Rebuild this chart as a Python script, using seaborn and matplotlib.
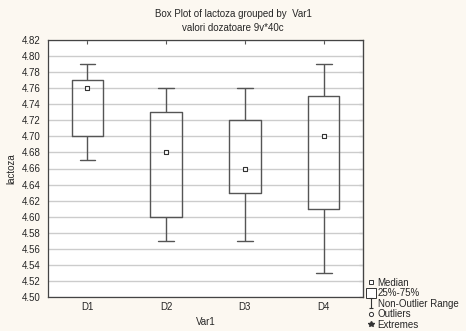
import matplotlib
matplotlib.use("Agg")
import matplotlib.pyplot as plt
import pandas as pd
import seaborn as sns
from matplotlib.lines import Line2D
from matplotlib.path import Path

GROUPS = ["D1", "D2", "D3", "D4"]
MEDIAN = [4.76, 4.68, 4.66, 4.70]
Q1 = [4.70, 4.60, 4.63, 4.61]
Q3 = [4.77, 4.73, 4.72, 4.75]
WHIS_LO = [4.67, 4.57, 4.57, 4.53]
WHIS_HI = [4.79, 4.76, 4.76, 4.79]
Y_TICKS = [4.50 + 0.02 * i for i in range(17)]

# five summary points per group -> boxplot reproduces the same stats
rows = []
for g, lo, q1, med, q3, hi in zip(GROUPS, WHIS_LO, Q1, MEDIAN, Q3, WHIS_HI):
    for v in (lo, q1, med, q3, hi):
        rows.append({"Var1": g, "lactoza": v})
df = pd.DataFrame(rows)
med_df = pd.DataFrame({"Var1": GROUPS, "lactoza": MEDIAN})

sns.set_style("white")
plt.rcParams["font.family"] = ["Liberation Sans", "DejaVu Sans"]
plt.rcParams["font.size"] = 7

bg = "#fcf8f1"
edge = "#555555"

fig = plt.figure(figsize=(4.66, 3.31), dpi=100, facecolor=bg)
ax = fig.add_axes([48 / 466, 34 / 331, 315 / 466, 257 / 331])
ax.set_facecolor("white")

sns.boxplot(
    data=df, x="Var1", y="lactoza", order=GROUPS, whis=(0, 100),
    width=0.4, fill=False, color=edge, linewidth=1.0,
    medianprops={"visible": False}, ax=ax, zorder=3,
)
for p in ax.patches:
    p.set_facecolor("white")
    p.set_fill(True)
sns.scatterplot(
    data=med_df, x="Var1", y="lactoza", marker="s", s=12,
    facecolor="white", edgecolor="#333333", linewidth=0.8, ax=ax, zorder=5,
)

ax.set_ylim(4.50, 4.82)
ax.set_xlim(-0.5, 3.5)
ax.set_yticks(Y_TICKS)
ax.set_yticklabels([f"{t:.2f}" for t in Y_TICKS])
ax.yaxis.grid(True, color="#cccccc", linewidth=1.0)
ax.set_axisbelow(True)
ax.tick_params(axis="y", which="major", direction="out", length=3, color=edge,
               labelsize=7, pad=2)
ax.tick_params(axis="x", direction="in", length=3, color=edge, labelsize=7, top=True)
for s in ax.spines.values():
    s.set_color("#444444")
    s.set_linewidth(0.9)

# inward ticks on the right side
ax_r = ax.secondary_yaxis("right")
ax_r.set_yticks(Y_TICKS)
ax_r.tick_params(direction="in", length=3, color=edge, labelright=False)
ax_r.spines["right"].set_color("#444444")

ax.set_xlabel("Var1", fontsize=7, labelpad=4)
ax.set_ylabel("lactoza", fontsize=7, labelpad=4)
fig.text(0.5, 0.958, "Box Plot of lactoza grouped by  Var1", ha="center", va="center",
         fontsize=7)
fig.text(0.5, 0.915, "valori dozatoare 9v*40c", ha="center", va="center", fontsize=7)

ibeam = Path([(-0.5, 1), (0.5, 1), (0, 1), (0, -1), (-0.5, -1), (0.5, -1)],
             [Path.MOVETO, Path.LINETO, Path.MOVETO, Path.LINETO, Path.MOVETO, Path.LINETO])
handles = [
    Line2D([], [], ls="none", marker="s", ms=3.5, mfc="white", mec="#333333", mew=0.7),
    Line2D([], [], ls="none", marker="s", ms=7, mfc="white", mec="#333333", mew=0.7),
    Line2D([], [], ls="none", marker=ibeam, ms=7, mfc="none", mec="#333333", mew=0.8),
    Line2D([], [], ls="none", marker="o", ms=3, mfc="white", mec="#333333", mew=0.7),
    Line2D([], [], ls="none", marker="*", ms=4, color="#333333"),
]
labels = ["Median", "25%-75%", "Non-Outlier Range", "Outliers", "Extremes"]
fig.legend(handles, labels, loc="lower left", bbox_to_anchor=(360 / 466, -0.017),
           frameon=False, fontsize=7, handlelength=0.8, handletextpad=0.3,
           labelspacing=0.05, borderpad=0.2)

fig.savefig("out.png", dpi=100, facecolor=bg)
